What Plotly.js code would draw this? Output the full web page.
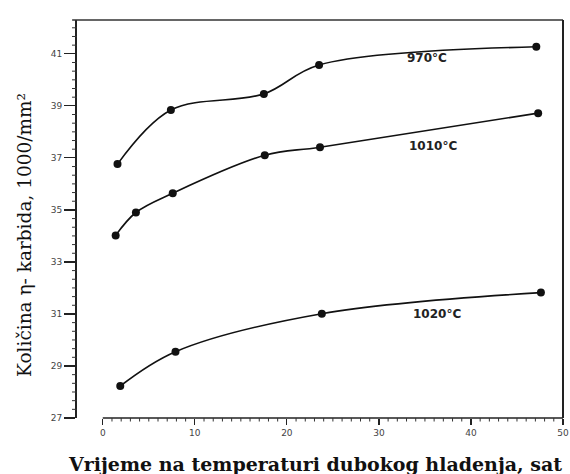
<!DOCTYPE html>
<html>
<head>
<meta charset="utf-8">
<script src="https://cdn.plot.ly/plotly-3.0.1.min.js"></script>
<style>html,body{margin:0;padding:0;background:#fff;}#chart{width:570px;height:474px;}</style>
</head>
<body>
<div id="chart"></div>
<script>
// Series
const x970 = [1.6, 7.4, 17.5, 23.5, 47.1];
const y970 = [36.76, 38.84, 39.46, 40.57, 41.27];
const x1010 = [1.4, 3.6, 7.6, 17.6, 23.6, 47.3];
const y1010 = [34.02, 34.90, 35.64, 37.10, 37.41, 38.72];
const x1020 = [1.9, 7.9, 23.8, 47.6];
const y1020 = [28.23, 29.55, 31.01, 31.82];
const seriesNames = ["970°C", "1010°C", "1020°C"];
const labelX = [35.2, 35.9, 36.3];
const labelY = [40.85, 37.45, 31.0];
const yTickStart = 27, yTickStep = 2, yMinorStep = 2 / 6;
const xTickStart = 0, xTickStep = 10, xMinorStep = 1;
const xTitle = "Vrijeme na temperaturi dubokog hladenja, sat";
const yTitle = "Količina η- karbida, 1000/mm²";

const xRange = [-2.8, 50], yRange = [27, 42.3];
const W = 570, H = 474, M = {l: 77, r: 7, t: 20, b: 56};
const plotW = W - M.l - M.r, plotH = H - M.t - M.b;
const xPaper = v => (v - xRange[0]) / (xRange[1] - xRange[0]);
const yPaper = v => (v - yRange[0]) / (yRange[1] - yRange[0]);

function series(x, y, name) {
  return {
    x: x, y: y, name: name, type: "scatter", mode: "lines+markers",
    line: {color: "#111", width: 1.6, shape: "spline", smoothing: 1.0},
    marker: {color: "#111", size: 8, symbol: "circle"},
    showlegend: false, hoverinfo: "skip"
  };
}

const data = [
  series(x970, y970, seriesNames[0]),
  series(x1010, y1010, seriesNames[1]),
  series(x1020, y1020, seriesNames[2])
];

const annotations = seriesNames.map((n, i) => ({
  x: labelX[i], y: labelY[i], xref: "x", yref: "y", text: "<b>" + n + "</b>", showarrow: false,
  font: {family: "DejaVu Sans, sans-serif", size: 12, color: "#222"}
}));
annotations.push({
  x: -0.107, y: 0.46, xref: "paper", yref: "paper", text: yTitle, showarrow: false,
  textangle: -90, xanchor: "center", yanchor: "middle",
  font: {family: "DejaVu Serif, serif", size: 18.5, color: "#111"}
});
annotations.push({
  x: 0.49, y: -0.115, xref: "paper", yref: "paper", text: "<b>" + xTitle + "</b>", showarrow: false,
  xanchor: "center", yanchor: "middle",
  font: {family: "DejaVu Serif, serif", size: 19, color: "#111"}
});

// axis frame and minor tick marks (decoration, generated from the tick steps)
const shapes = [
  {type: "line", xref: "paper", yref: "paper", x0: xPaper(xTickStart), x1: 1, y0: 0, y1: 0, line: {color: "#222", width: 1.5}},
  {type: "line", xref: "paper", yref: "paper", x0: -0.01, x1: 1, y0: 1, y1: 1, line: {color: "#333", width: 1.5}},
  {type: "line", xref: "paper", yref: "paper", x0: 1, x1: 1, y0: 0, y1: 1, line: {color: "#222", width: 2}}
];
for (let v = xTickStart + xMinorStep; v < xRange[1] - 1e-9; v += xMinorStep) {
  if (Math.abs(v / xTickStep - Math.round(v / xTickStep)) < 1e-6) continue;
  shapes.push({type: "line", xref: "paper", yref: "paper", x0: xPaper(v), x1: xPaper(v), y0: 0, y1: -3.5 / plotH,
               line: {color: "#333", width: 1}});
}
for (let k = 1; yTickStart + k * yMinorStep < yRange[1]; k++) {
  if (k % 6 === 0) continue;
  const v = yTickStart + k * yMinorStep;
  shapes.push({type: "line", xref: "paper", yref: "paper", x0: -5 / plotW, x1: 0, y0: yPaper(v), y1: yPaper(v),
               line: {color: "#333", width: 1}});
}

const layout = {
  width: W, height: H,
  margin: M,
  paper_bgcolor: "#fff", plot_bgcolor: "#fff",
  xaxis: {
    range: xRange, anchor: "y",
    showgrid: false, zeroline: false, showline: false,
    tickmode: "linear", tick0: xTickStart, dtick: xTickStep, ticks: "outside", ticklen: 6, tickwidth: 1.2, tickcolor: "#222",
    tickfont: {family: "DejaVu Sans, sans-serif", size: 9, color: "#444"}
  },
  yaxis: {
    range: yRange, anchor: "x",
    showgrid: false, zeroline: false, showline: true, linecolor: "#222", linewidth: 2,
    tickmode: "linear", tick0: yTickStart, dtick: yTickStep, ticks: "outside", ticklen: 11, tickwidth: 1.2, tickcolor: "#222",
    tickfont: {family: "DejaVu Sans, sans-serif", size: 9, color: "#444"}
  },
  shapes: shapes,
  annotations: annotations
};

Plotly.newPlot("chart", data, layout, {staticPlot: true, displayModeBar: false});
</script>
</body>
</html>
